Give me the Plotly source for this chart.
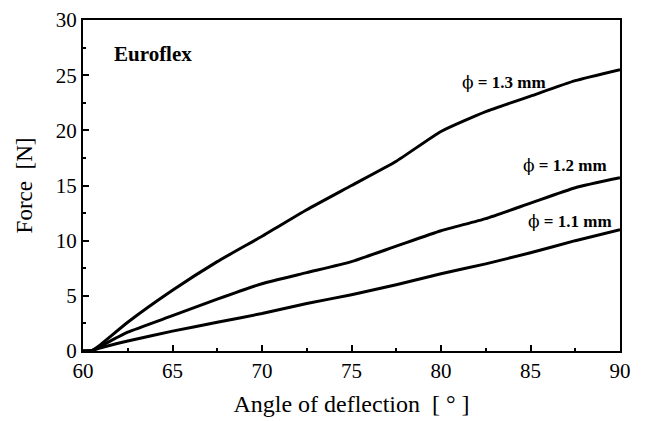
import plotly.graph_objects as go

angle = [60, 60.5, 61, 62.5, 65, 67.5, 70, 72.5, 75, 77.5, 80, 82.5, 85, 87.5, 90]
force_13 = [0, 0.05, 0.6, 2.6, 5.5, 8.1, 10.4, 12.8, 15.0, 17.2, 19.9, 21.7, 23.1, 24.5, 25.5]
force_12 = [0, 0.05, 0.45, 1.7, 3.2, 4.7, 6.1, 7.1, 8.1, 9.5, 10.9, 12.0, 13.4, 14.8, 15.7]
force_11 = [0, 0.05, 0.3, 0.9, 1.8, 2.6, 3.4, 4.3, 5.1, 6.0, 7.0, 7.9, 8.9, 10.0, 11.0]

labels = ["1.3 mm", "1.2 mm", "1.1 mm"]
series = [force_13, force_12, force_11]
label_pos = [(83.5, 24.4), (86.9, 16.9), (87.2, 11.8)]

font_family = "Liberation Serif"

fig = go.Figure()
for name, ys in zip(labels, series):
    fig.add_trace(go.Scatter(x=angle, y=ys, mode="lines", name=name,
                             line=dict(color="black", width=3, shape="spline", smoothing=0.5),
                             showlegend=False))

for name, (lx, ly) in zip(labels, label_pos):
    fig.add_annotation(x=lx, y=ly,
                       text='<span style="font-family:DejaVu Serif">ϕ</span> <b>= ' + name + '</b>',
                       showarrow=False,
                       font=dict(family=font_family, size=17, color="black"))

fig.add_annotation(x=63.9, y=26.9, text="<b>Euroflex</b>", showarrow=False,
                   font=dict(family=font_family, size=21, color="black"))

axis_common = dict(showgrid=False, zeroline=False, showline=True, linecolor="black",
                   linewidth=2, mirror=True, ticks="inside", ticklen=6, tickwidth=1.5,
                   tickcolor="black", automargin=False, ticklabeloverflow="allow",
                   tickfont=dict(family=font_family, size=21, color="black"))

fig.update_xaxes(range=[60, 90], dtick=5, tick0=60,
                 minor=dict(dtick=2.5, ticks="inside", ticklen=3, tickcolor="black"),
                 title=dict(text="Angle of deflection  [ ° ]", font=dict(family=font_family, size=24, color="black"), standoff=13),
                 **axis_common)
fig.update_yaxes(range=[0, 30], dtick=5, tick0=0,
                 minor=dict(dtick=2.5, ticks="inside", ticklen=3, tickcolor="black"),
                 title=dict(text="Force  [N]", font=dict(family=font_family, size=23, color="black"), standoff=17),
                 **axis_common)

# page body has an 8px default margin; margins compensate for it
fig.update_layout(width=646, height=421, margin=dict(l=75, r=34, t=12, b=78),
                  plot_bgcolor="white", paper_bgcolor="white")

fig.write_html("out.html")
